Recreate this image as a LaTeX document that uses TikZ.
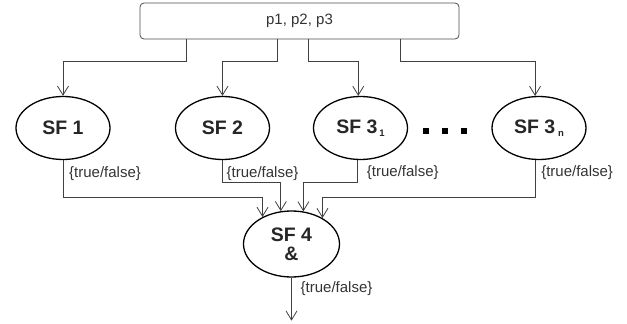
\documentclass[tikz,border=0pt]{standalone}
\usepackage{fontspec}
\setmainfont{Liberation Sans}
\usetikzlibrary{shapes.geometric,arrows.meta,calc}
\begin{document}
\begin{tikzpicture}[x=1pt,y=-1pt,
  conn/.style={draw=black!75, line width=0.8pt},
  arr/.style={conn,-{Straight Barb[length=9pt,width=11pt]}},
  sfnode/.style={ellipse, draw=black, line width=1.3pt, minimum width=94pt, minimum height=63pt, inner sep=0pt, font=\fontsize{19.5}{19}\selectfont\bfseries, align=center, text=black!85},
  lbl/.style={inner sep=0pt, font=\fontsize{15}{17}\selectfont, text=black!80, anchor=west},
  boxnode/.style={rectangle, rounded corners=4pt, draw=black!70, line width=0.8pt, minimum width=319pt, minimum height=36pt, inner sep=0pt, font=\fontsize{15}{17}\selectfont, text=black!80},
  dotsq/.style={fill=black, minimum size=6pt, inner sep=0pt},
]
\useasboundingbox (0,0) rectangle (627,324);

% top box
\node[boxnode] (top) at (299.5,21) {p1, p2, p3};

% function nodes
\node[sfnode] (sf1) at (63,128) {SF 1};
\node[sfnode] (sf2) at (222.5,128) {SF 2};
\node[sfnode] (sf31) at (360.5,128) {SF 3\hspace{2pt}\raisebox{-3pt}{\fontsize{9.5}{10}\selectfont 1}};
\node[sfnode] (sf3n) at (539,128) {SF 3\hspace{3pt}\raisebox{-3pt}{\fontsize{9.5}{10}\selectfont n}};
\node[sfnode, minimum width=96pt, minimum height=66pt] (sf4) at (291.5,244) {SF 4\\\&};

% dots
\node[dotsq] (dot1) at (426,131) {};
\node[dotsq] (dot2) at (445,131) {};
\node[dotsq] (dot3) at (464,131) {};

% helper coordinates
\coordinate (busT) at (0,61);
\coordinate (busA) at (0,197);
\coordinate (busB) at (0,182);
\coordinate (d1) at (186,0);
\coordinate (d2) at (277,0);
\coordinate (d3) at (308,0);
\coordinate (d4) at (400,0);

% top connectors
\draw[arr] (top.south -| d1) |- (sf1.north |- busT) -- (sf1.north);
\draw[arr] (top.south -| d2) |- (sf2.north |- busT) -- (sf2.north);
\draw[arr] (top.south -| d3) |- (sf31.94 |- busT) -- (sf31.94);
\draw[arr] (top.south -| d4) |- (sf3n.97 |- busT) -- (sf3n.97);

% bottom connectors
\draw[arr] (sf1.south) |- (sf4.137 |- busA) -- (sf4.137);
\draw[arr] (sf2.south) |- (sf4.108 |- busB) -- (sf4.108);
\draw[arr] (sf31.265) |- (sf4.70 |- busB) -- (sf4.70);
\draw[arr] (sf3n.263) |- (sf4.40 |- busA) -- (sf4.40);

% output
\coordinate (out) at ([yshift=-43pt]sf4.south);
\draw[arr] (sf4.south) -- (out);

% labels
\node[lbl] (l1) at ([xshift=6pt,yshift=-13pt]sf1.south) {\{true/false\}};
\node[lbl] (l2) at ([xshift=4pt,yshift=-13pt]sf2.south) {\{true/false\}};
\node[lbl] (l3) at ([xshift=9pt,yshift=-13pt]sf31.265) {\{true/false\}};
\node[lbl] (l4) at ([xshift=6pt,yshift=-13pt]sf3n.263) {\{true/false\}};
\node[lbl] (l5) at ([xshift=9pt,yshift=-11pt]sf4.south) {\{true/false\}};
\end{tikzpicture}
\end{document}
